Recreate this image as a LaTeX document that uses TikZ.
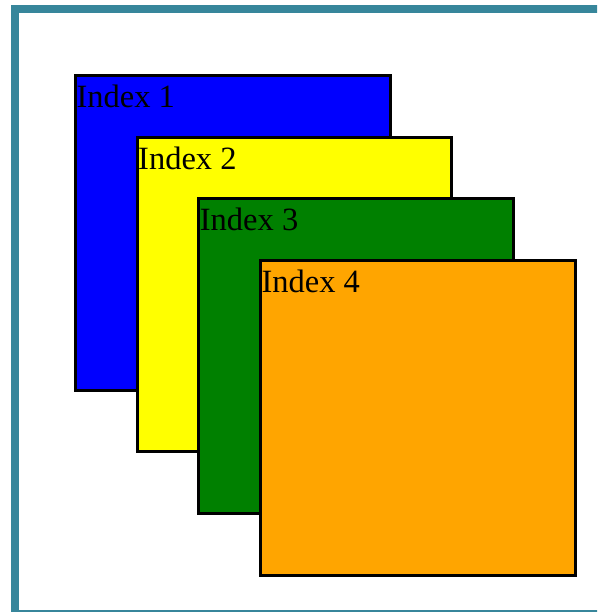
\documentclass[tikz,border=0pt]{standalone}
\usepackage{fontspec}
\setmainfont{Liberation Serif}
\definecolor{frameteal}{RGB}{55,134,155}
\definecolor{boxblue}{RGB}{0,0,255}
\definecolor{boxyellow}{RGB}{255,255,0}
\definecolor{boxgreen}{RGB}{0,128,0}
\definecolor{boxorange}{RGB}{255,165,0}
\begin{document}
\begin{tikzpicture}[x=1pt,y=-1pt,
  stackbox/.style={draw=black, line width=3pt, rectangle, anchor=north west,
    minimum width=314.5pt, minimum height=314.5pt, outer sep=0pt, inner sep=0pt},
  boxlabel/.style={anchor=base west, inner sep=0pt, outer sep=0pt,
    font=\fontsize{32.5}{38}\selectfont, text=black}]
\useasboundingbox (0,0) rectangle (597,612);
\clip (0,0) rectangle (597,612);
\fill[white] (0,0) rectangle (597,612);
\draw[frameteal, line width=7.5pt] (15,8.8) rectangle (640,613.5);
\node[stackbox, fill=boxblue]   (b1) at (75.5,75.5) {};
\node[boxlabel] (t1) at ([shift={(1,32)}]b1.north west) {Index 1};
\node[stackbox, fill=boxyellow] (b2) at (137.2,137.2) {};
\node[boxlabel] (t2) at ([shift={(1,32)}]b2.north west) {Index 2};
\node[stackbox, fill=boxgreen]  (b3) at (198.9,198.9) {};
\node[boxlabel] (t3) at ([shift={(1,32)}]b3.north west) {Index 3};
\node[stackbox, fill=boxorange] (b4) at (260.6,260.6) {};
\node[boxlabel] (t4) at ([shift={(1,32)}]b4.north west) {Index 4};
\end{tikzpicture}
\end{document}
